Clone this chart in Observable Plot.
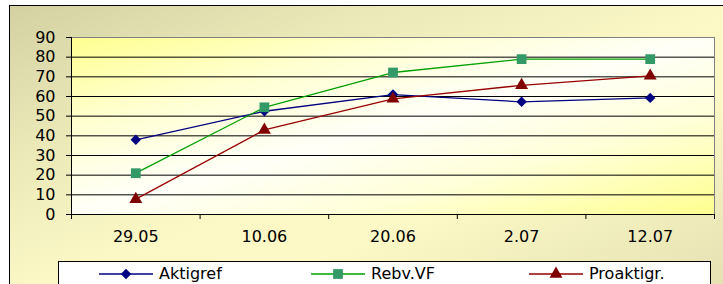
<!DOCTYPE html>
<html>
<head>
<meta charset="utf-8">
<script src="https://cdn.jsdelivr.net/npm/d3@7"></script>
<script src="https://cdn.jsdelivr.net/npm/@observablehq/plot@0.6"></script>
<style>
  html, body { margin: 0; padding: 0; background: #ffffff; }
  #wrap { position: relative; width: 723px; height: 284px; overflow: hidden; font-family: "DejaVu Sans", sans-serif; }
  #outer { position: absolute; left: 9px; top: 5px; width: 722px; height: 290px; border-left: 1px solid #000; border-top: 1px solid #000;
    background: linear-gradient(to bottom right, #d3d0a2 0%, #ebe8b8 25%, #fbf8c6 50%, #fcf9c6 65%, #e3dfb1 100%); }
  #plotbg { position: absolute; left: 71px; top: 37px; width: 643px; height: 177px;
    background: linear-gradient(to bottom right, #ffff90 0%, #ffffd0 25%, #fffff8 50%, #ffffd8 72%, #ffff90 100%); }
  #chart { position: absolute; left: 0; top: 0; }
  #legend { position: absolute; left: 58px; top: 261px; width: 651px; height: 40px; background: #fff; border: 1px solid #000; }
  .item { position: absolute; top: 2px; display: flex; align-items: center; font-size: 16px; color: #000; }
  .item svg { margin-right: 5px; }
</style>
</head>
<body>
<div id="wrap">
  <div id="outer"></div>
  <div id="plotbg"></div>
  <div id="chart"></div>
  <div id="legend"></div>
</div>
<script>
const dates = ["29.05", "10.06", "20.06", "2.07", "12.07"];
const aktigref = [38, 52.5, 61, 57.3, 59.3];
const rebvVF = [21, 54.5, 72.2, 79, 79];
const proaktigr = [7.8, 43, 58.8, 65.7, 70.5];
const yTicks = [0, 10, 20, 30, 40, 50, 60, 70, 80, 90];

const seriesDefs = [
  {name: "Aktigref", values: aktigref, line: "#000080", fill: "#000080", symbol: "diamond2", r: 4.7},
  {name: "Rebv.VF", values: rebvVF, line: "#00a000", fill: "#339966", symbol: "square", r: 5.5},
  {name: "Proaktigr.", values: proaktigr, line: "#990000", fill: "#800000", symbol: "triangle", r: 4.8}
];

const rows = seriesDefs.flatMap(s => s.values.map((v, i) => ({series: s.name, i, value: v})));
const idx = dates.map((d, i) => i);
const bounds = dates.map((d, i) => i - 0.5).concat([dates.length - 0.5]);

const marks = [
  Plot.ruleY(yTicks.filter(t => t > 0), {y: d => d, stroke: "#000", strokeWidth: 1}),
  Plot.ruleX([dates.length - 0.5], {stroke: "#808080"}),
  Plot.ruleY([90], {stroke: "#808080"}),
  Plot.ruleX([-0.5], {stroke: "#000"}),
  Plot.ruleY([0], {stroke: "#000"}),
  Plot.axisY({ticks: yTicks, tickSize: 5, tickPadding: 11, fontSize: 16, tickFormat: d => d, stroke: "#000", color: "#000", label: null}),
  Plot.axisX({ticks: bounds, tickSize: 5, tickFormat: () => "", stroke: "#000", label: null}),
  Plot.axisX({ticks: idx, tickSize: 0, tickPadding: 16, fontSize: 16, tickFormat: i => dates[i], color: "#000", label: null})
];
for (const s of seriesDefs) {
  const data = rows.filter(r => r.series === s.name);
  marks.push(Plot.line(data, {x: "i", y: "value", stroke: s.line, strokeWidth: 1.3}));
}
for (const s of seriesDefs) {
  const data = rows.filter(r => r.series === s.name);
  marks.push(Plot.dot(data, {x: "i", y: "value", symbol: () => s.symbol, fill: s.fill, stroke: "none", r: s.r}));
}

const chart = Plot.plot({
  width: 723,
  height: 284,
  marginLeft: 71,
  marginRight: 9,
  marginTop: 37,
  marginBottom: 70,
  style: {background: "transparent", fontFamily: "'DejaVu Sans', sans-serif", fontSize: "16px", color: "#000"},
  x: {type: "linear", domain: [-0.5, dates.length - 0.5], axis: null},
  y: {domain: [0, 90], axis: null},
  symbol: {type: "identity"},
  marks
});
document.getElementById("chart").appendChild(chart);

// legend
const legend = document.getElementById("legend");
const legendX = [39, 251, 469];
seriesDefs.forEach((s, k) => {
  const item = document.createElement("div");
  item.className = "item";
  item.style.left = legendX[k] + "px";
  const sw = d3.create("svg").attr("width", 56).attr("height", 18);
  sw.append("line").attr("x1", 1).attr("x2", 55).attr("y1", 9).attr("y2", 9).attr("stroke", s.line).attr("stroke-width", 1.3);
  const sym = {diamond2: d3.symbolDiamond2, square: d3.symbolSquare, triangle: d3.symbolTriangle}[s.symbol];
  sw.append("path").attr("transform", "translate(28,9)")
    .attr("d", d3.symbol(sym, Math.PI * s.r * s.r)()).attr("fill", s.fill);
  item.appendChild(sw.node());
  const t = document.createElement("span");
  t.textContent = s.name;
  item.appendChild(t);
  legend.appendChild(item);
});
</script>
</body>
</html>
